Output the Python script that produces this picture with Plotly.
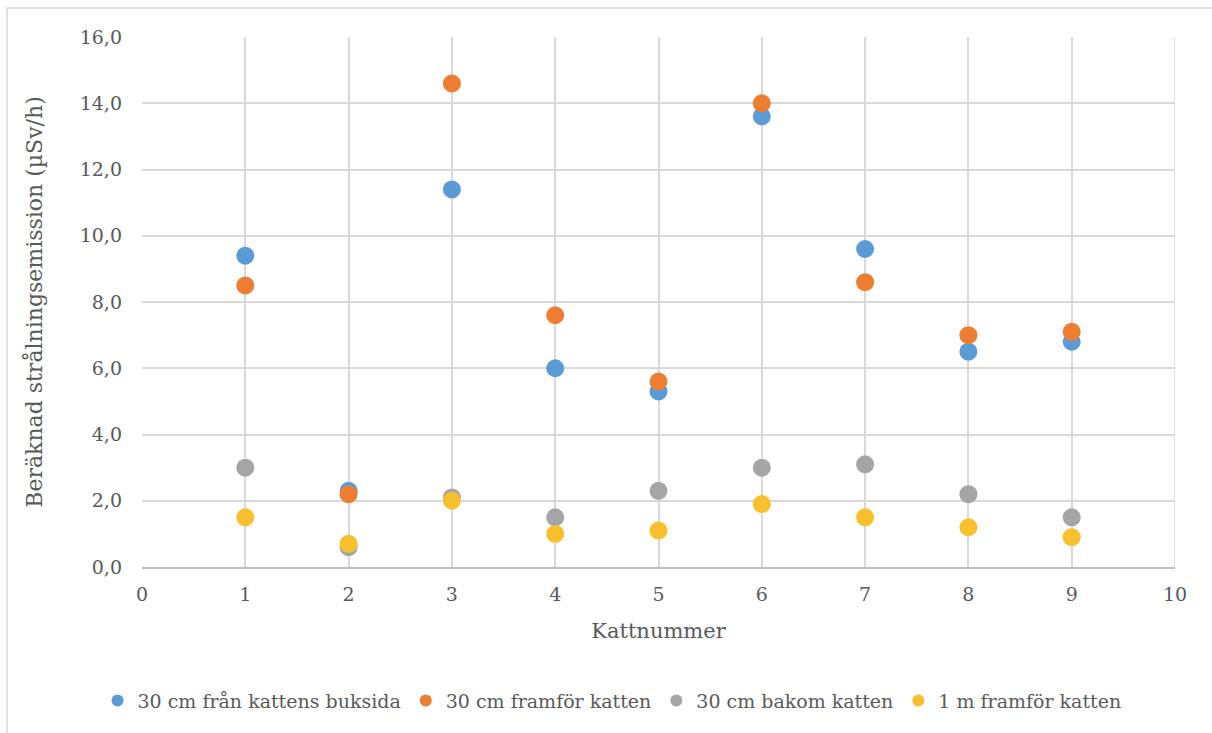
import plotly.graph_objects as go

# Kattnummer (x) och beräknad strålning (µSv/h) per mätposition
katt = [1, 2, 3, 4, 5, 6, 7, 8, 9]
buksida_30cm = [9.4, 2.3, 11.4, 6.0, 5.3, 13.6, 9.6, 6.5, 6.8]
framfor_30cm = [8.5, 2.2, 14.6, 7.6, 5.6, 14.0, 8.6, 7.0, 7.1]
bakom_30cm = [3.0, 0.6, 2.1, 1.5, 2.3, 3.0, 3.1, 2.2, 1.5]
framfor_1m = [1.5, 0.7, 2.0, 1.0, 1.1, 1.9, 1.5, 1.2, 0.9]

series = [
    ("30 cm från kattens buksida", buksida_30cm, "#5B9BD5"),
    ("30 cm framför katten", framfor_30cm, "#ED7D31"),
    ("30 cm bakom katten", bakom_30cm, "#A5A5A5"),
    ("1 m framför katten", framfor_1m, "#F9C02E"),
]

FONT = "DejaVu Serif"
TXT = "#595959"

fig = go.Figure()
for name, vals, col in series:
    fig.add_trace(go.Scatter(
        x=katt, y=vals, mode="markers", name=name,
        marker=dict(color=col, size=18, line=dict(width=0)),
    ))

fig.update_layout(
    width=1212, height=733,
    margin=dict(l=142, r=37, t=37, b=166),
    paper_bgcolor="white", plot_bgcolor="white",
    separators=",.",
    font=dict(family=FONT, color=TXT, size=19),
    showlegend=True,
    legend=dict(
        orientation="h", x=0.455, xanchor="center", y=-0.252, yanchor="middle",
        font=dict(family=FONT, size=19, color=TXT),
        itemsizing="constant", itemwidth=30, tracegroupgap=0,
        bgcolor="rgba(0,0,0,0)",
    ),
    xaxis=dict(
        range=[0, 10], dtick=1, tick0=0,
        showgrid=True, gridcolor="#D9D9D9", gridwidth=1.5,
        showline=True, linecolor="#BFBFBF", linewidth=1.5,
        zeroline=False, ticks="", ticklen=0,
        tickfont=dict(family=FONT, size=19, color=TXT),
        ticklabelstandoff=9,
        title=dict(text="Kattnummer", font=dict(family=FONT, size=21, color=TXT), standoff=20),
    ),
    yaxis=dict(
        range=[0, 16], dtick=2, tick0=0, tickformat=".1f",
        showgrid=True, gridcolor="#D9D9D9", gridwidth=1.5,
        showline=False, zeroline=False, ticks="",
        tickfont=dict(family=FONT, size=19, color=TXT),
        ticklabelstandoff=19,
        title=dict(text="Beräknad strålningsemission (µSv/h)",
                   font=dict(family=FONT, size=22, color=TXT), standoff=30),
    ),
    shapes=[
        # right edge of the plot area
        dict(type="line", xref="x", yref="paper", x0=10, x1=10, y0=0, y1=1,
             line=dict(color="#D9D9D9", width=1.5)),
        # outer chart frame
        dict(type="rect", xref="paper", yref="paper",
             x0=(7 - 142) / 1033, x1=(1220 - 142) / 1033,
             y0=(567 - 745) / 530, y1=(567 - 8) / 530,
             line=dict(color="#D9D9D9", width=1.5), layer="below"),
    ],
)

fig.write_html("out.html")
